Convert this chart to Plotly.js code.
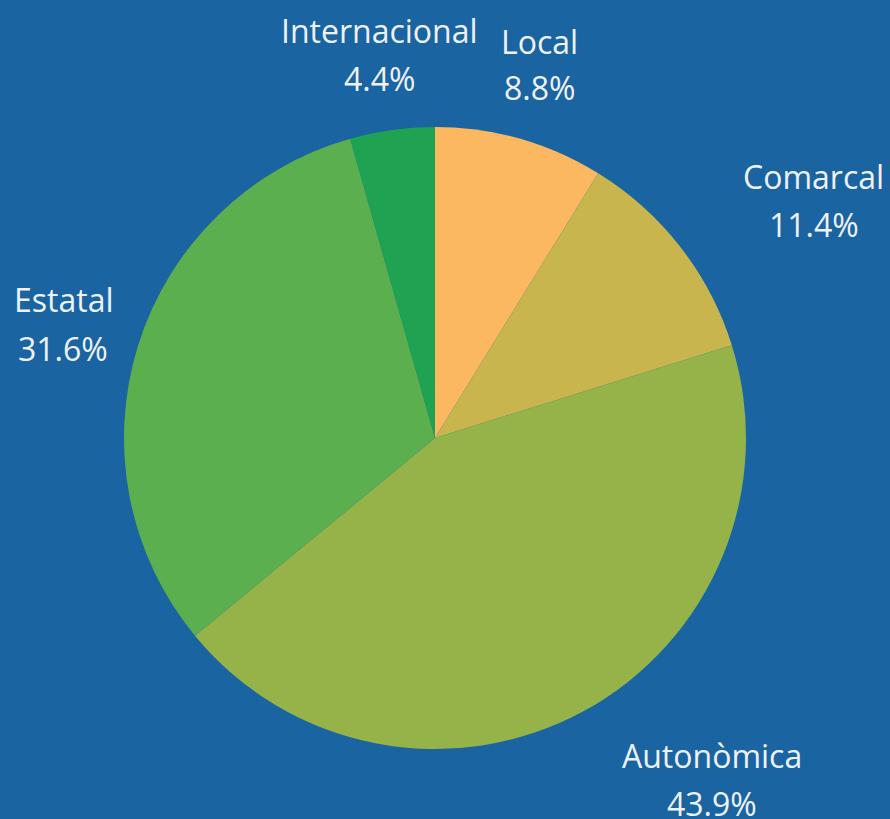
<!DOCTYPE html>
<html>
<head>
<meta charset="utf-8">
<script src="https://cdn.plot.ly/plotly-3.0.1.min.js"></script>
<style>html,body{margin:0;padding:0;background:#1a64a1;}#chart{width:890px;height:819px;}</style>
</head>
<body>
<div id="chart"></div>
<script>
const labels = ['Local', 'Comarcal', 'Autonòmica', 'Estatal', 'Internacional'];
const values = [8.8, 11.4, 43.9, 31.6, 4.4];
const colors = ['#fbb860', '#c9b54e', '#96b34a', '#5caf4f', '#1fa352'];

// label offsets (pixels) from slice mid-edge point: [dx, dy_name, dy_pct]
const labelOffsets = [[20, -97, -51], [133, -71, -23], [129, 44, 92], [-75, -46, 3], [-13, -99, -51]];

const W = 890, H = 819;
const cx = 435, cy = 438, R = 311;
const dom = {x: [(cx - R) / W, (cx + R) / W], y: [1 - (cy + R) / H, 1 - (cy - R) / H]};

const total = values.reduce((a, b) => a + b, 0);
const annotations = [];
let cum = 0;
const textColor = '#eef2f6';
const fnt = {family: 'Open Sans, sans-serif', size: 32, color: textColor};
values.forEach((v, i) => {
  const mid = (cum + v / 2) / total * 2 * Math.PI;
  cum += v;
  const ex = cx + R * Math.sin(mid), ey = cy - R * Math.cos(mid);
  const off = labelOffsets[i];
  annotations.push({xref: 'paper', yref: 'paper', x: ex / W, y: 1 - ey / H, text: labels[i],
    showarrow: false, xanchor: 'center', yanchor: 'middle', xshift: off[0], yshift: -off[1], font: fnt});
  annotations.push({xref: 'paper', yref: 'paper', x: ex / W, y: 1 - ey / H, text: v.toFixed(1) + '%',
    showarrow: false, xanchor: 'center', yanchor: 'middle', xshift: off[0], yshift: -off[2], font: fnt});
});

Plotly.newPlot('chart', [{
  type: 'pie',
  labels: labels,
  values: values,
  sort: false,
  direction: 'clockwise',
  rotation: 0,
  marker: {colors: colors, line: {width: 0}},
  textinfo: 'none',
  hoverinfo: 'skip',
  domain: dom,
  showlegend: false
}], {
  width: W, height: H,
  margin: {l: 0, r: 0, t: 0, b: 0},
  paper_bgcolor: '#1a64a1',
  plot_bgcolor: '#1a64a1',
  showlegend: false,
  annotations: annotations
}, {staticPlot: true});
</script>
</body>
</html>
